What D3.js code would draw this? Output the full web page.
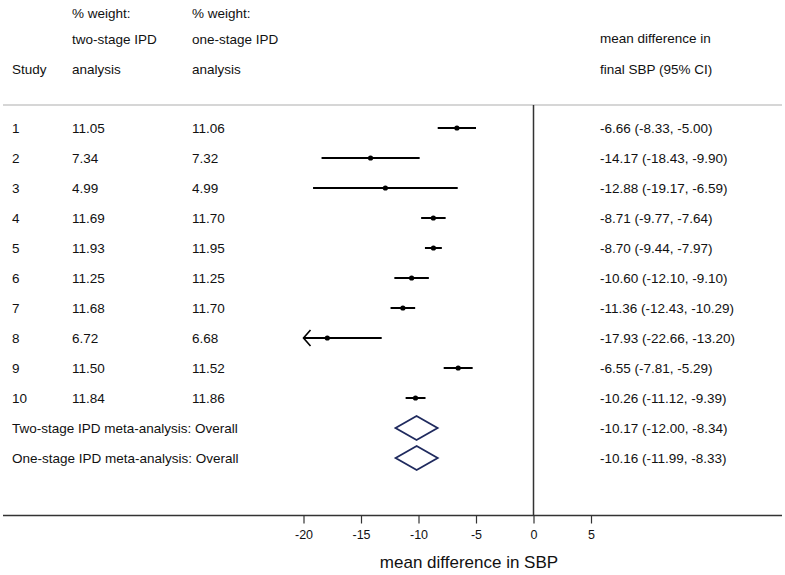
<!DOCTYPE html>
<html>
<head>
<meta charset="utf-8">
<script src="https://cdn.jsdelivr.net/npm/d3@7"></script>
<style>
  html, body { margin: 0; padding: 0; background: #fff; }
  svg { display: block; }
  text { font-family: "Liberation Sans", Arial, sans-serif; fill: #111; }
</style>
</head>
<body>
<svg id="chart" width="785" height="575"></svg>
<script>
// ---- data ----
const studies = ["1", "2", "3", "4", "5", "6", "7", "8", "9", "10"];
const weightTwoStage = ["11.05", "7.34", "4.99", "11.69", "11.93", "11.25", "11.68", "6.72", "11.50", "11.84"];
const weightOneStage = ["11.06", "7.32", "4.99", "11.70", "11.95", "11.25", "11.70", "6.68", "11.52", "11.86"];
const estimates = [-6.66, -14.17, -12.88, -8.71, -8.70, -10.60, -11.36, -17.93, -6.55, -10.26];
const lower = [-8.33, -18.43, -19.17, -9.77, -9.44, -12.10, -12.43, -22.66, -7.81, -11.12];
const upper = [-5.00, -9.90, -6.59, -7.64, -7.97, -9.10, -10.29, -13.20, -5.29, -9.39];

const overallLabels = ["Two-stage IPD meta-analysis: Overall", "One-stage IPD meta-analysis: Overall"];
const overallEst = [-10.17, -10.16];
const overallLower = [-12.00, -11.99];
const overallUpper = [-8.34, -8.33];

const xTicks = [-20, -15, -10, -5, 0, 5];
const axisTitle = "mean difference in SBP";

// ---- layout ----
const svg = d3.select("#chart");
const fontSize = 13.5;
const x = d3.scaleLinear().domain([-20, 5]).range([303.5, 591]);
const rowKeys = studies.concat(["o1", "o2"]);
const y = d3.scalePoint().domain(rowKeys).range([128, 458]);
const fmt = v => d3.format(".2f")(v).replace("\u2212", "-");
const ciText = (e, l, u) => `${fmt(e)} (${fmt(l)}, ${fmt(u)})`;

// header
const header = svg.append("g").attr("font-size", fontSize);
header.append("text").attr("x", 72).attr("y", 13).attr("dy", "0.35em").text("% weight:");
header.append("text").attr("x", 72).attr("y", 39).attr("dy", "0.35em").text("two-stage IPD");
header.append("text").attr("x", 72).attr("y", 69).attr("dy", "0.35em").text("analysis");
header.append("text").attr("x", 192).attr("y", 13).attr("dy", "0.35em").text("% weight:");
header.append("text").attr("x", 192).attr("y", 39).attr("dy", "0.35em").text("one-stage IPD");
header.append("text").attr("x", 192).attr("y", 69).attr("dy", "0.35em").text("analysis");
header.append("text").attr("x", 12).attr("y", 69).attr("dy", "0.35em").text("Study");
header.append("text").attr("x", 600).attr("y", 38).attr("dy", "0.35em").text("mean difference in");
header.append("text").attr("x", 600).attr("y", 69).attr("dy", "0.35em").text("final SBP (95% CI)");

// separator
svg.append("line").attr("x1", 3).attr("x2", 782).attr("y1", 105).attr("y2", 105)
  .attr("stroke", "#c8c8c8").attr("stroke-width", 1.5);

// null line
svg.append("line").attr("x1", x(0)).attr("x2", x(0)).attr("y1", 105).attr("y2", 515.5)
  .attr("stroke", "#333").attr("stroke-width", 1.5);

// study rows text
const rows = svg.append("g").attr("font-size", fontSize);
studies.forEach((s, i) => {
  const yy = y(s);
  rows.append("text").attr("x", 12).attr("y", yy).attr("dy", "0.35em").text(s);
  rows.append("text").attr("x", 72).attr("y", yy).attr("dy", "0.35em").text(weightTwoStage[i]);
  rows.append("text").attr("x", 192).attr("y", yy).attr("dy", "0.35em").text(weightOneStage[i]);
  rows.append("text").attr("x", 600).attr("y", yy).attr("dy", "0.35em").text(ciText(estimates[i], lower[i], upper[i]));
});
overallLabels.forEach((lab, i) => {
  const yy = y(rowKeys[10 + i]);
  rows.append("text").attr("x", 12).attr("y", yy).attr("dy", "0.35em").text(lab);
  rows.append("text").attr("x", 600).attr("y", yy).attr("dy", "0.35em").text(ciText(overallEst[i], overallLower[i], overallUpper[i]));
});

// CI lines and points
const [dMin] = x.domain();
const marks = svg.append("g");
studies.forEach((s, i) => {
  const yy = y(s);
  const clipped = lower[i] < dMin;
  const l = clipped ? dMin : lower[i];
  marks.append("line").attr("x1", x(l)).attr("x2", x(upper[i])).attr("y1", yy).attr("y2", yy)
    .attr("stroke", "#000").attr("stroke-width", 2);
  if (clipped) {
    const ax = x(dMin);
    marks.append("path")
      .attr("d", `M${ax + 7},${yy - 8} L${ax},${yy} L${ax + 7},${yy + 8}`)
      .attr("fill", "none").attr("stroke", "#000").attr("stroke-width", 1.6);
  }
  marks.append("circle").attr("cx", x(estimates[i])).attr("cy", yy).attr("r", 2.6).attr("fill", "#000");
});

// diamonds
overallLabels.forEach((lab, i) => {
  const yy = y(rowKeys[10 + i]);
  const h = 12;
  marks.append("path")
    .attr("d", `M${x(overallLower[i])},${yy} L${x(overallEst[i])},${yy - h} L${x(overallUpper[i])},${yy} L${x(overallEst[i])},${yy + h} Z`)
    .attr("fill", "none").attr("stroke", "#1f2a5e").attr("stroke-width", 1.8);
});

// x axis
svg.append("line").attr("x1", 3).attr("x2", 782).attr("y1", 515.5).attr("y2", 515.5)
  .attr("stroke", "#333").attr("stroke-width", 1.5);
const axis = d3.axisBottom(x).tickValues(xTicks).tickSize(8).tickPadding(7)
  .tickFormat(d => String(d));
const ax = svg.append("g").attr("transform", "translate(0,515.5)").call(axis);
ax.select(".domain").remove();
ax.selectAll(".tick line").attr("stroke", "#333").attr("stroke-width", 1.2);
ax.selectAll(".tick text").attr("font-size", 12.5).attr("font-family", "Liberation Sans, Arial, sans-serif").attr("fill", "#111");

svg.append("text").attr("x", 469).attr("y", 562).attr("dy", "0.35em").attr("text-anchor", "middle")
  .attr("font-size", 17).text(axisTitle);
</script>
</body>
</html>
